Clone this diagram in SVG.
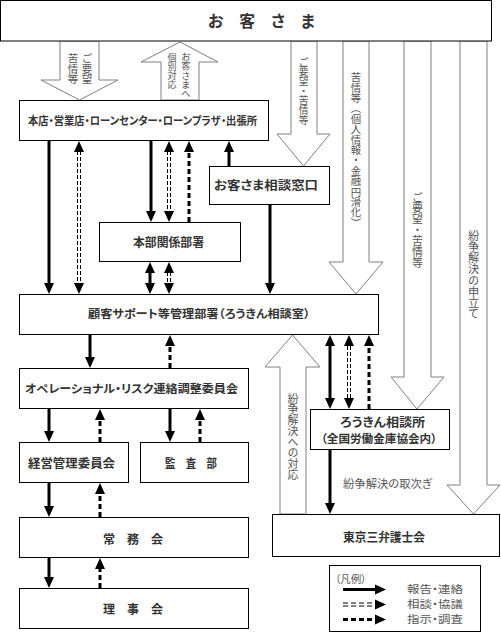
<svg xmlns="http://www.w3.org/2000/svg" xmlns:xlink="http://www.w3.org/1999/xlink" width="501" height="632" viewBox="0 0 501 632">
<style>
.box{fill:#fff;stroke:#000;stroke-width:1}
.lbl{font-family:"Noto Sans CJK JP","Noto Sans CJK SC",sans-serif;font-weight:700;fill:#333;text-anchor:middle;font-feature-settings:"palt"}
.note{font-family:"Noto Sans CJK JP","Noto Sans CJK SC",sans-serif;font-weight:400;fill:#555;font-feature-settings:"palt"}
.vt{font-family:"Noto Sans CJK JP","Noto Sans CJK SC",sans-serif;font-weight:400;fill:#555;writing-mode:vertical-rl}
.hol{fill:#fff;stroke:#808080;stroke-width:1}
.s{stroke:#000;stroke-width:3;fill:none}
.td{stroke:#000;stroke-width:3;fill:none;stroke-dasharray:5 3}
.dd{stroke:#000;stroke-width:1;fill:none;stroke-dasharray:4 2}
</style>
<defs>
<path id="hd" d="M0,0 L-5,-11 L5,-11 Z" fill="#000"/>
</defs>
<rect width="501" height="632" fill="#fff"/>

<g id="connectors">
<!-- hollow arrows -->
<polygon class="hol" points="60,41 99,41 99,80 118,80 79.5,100 41,80 60,80"/>
<text class="vt" x="87" y="53" font-size="10.5">ご要望</text>
<text class="vt" x="73" y="53" font-size="10.5">苦情等</text>
<polygon class="hol" points="161,100 161,62 141,62 180,42 218,62 199,62 199,100"/>
<text class="vt" x="186" y="52" font-size="9.3">お客さまへ</text>
<text class="vt" x="172" y="53" font-size="9">個別対応</text>
<polygon class="hol" points="291,41 317,41 317,134 330,134 303.5,166 277,134 291,134"/>
<text class="vt" x="303.5" y="57" font-size="9.7">ご要望・苦情等</text>
<polygon class="hol" points="343,41 369,41 369,262 383,262 356,294 329,262 343,262"/>
<text class="vt" x="356" y="72" font-size="10.4">苦情等（個人情報・金融円滑化）</text>
<polygon class="hol" points="404,41 431,41 431,377 444,377 417,409 391,377 404,377"/>
<text class="vt" x="417.5" y="192" font-size="10.9">ご要望・苦情等</text>
<polygon class="hol" points="460,41 487,41 487,485 500,485 473.5,514 447,485 460,485"/>
<text class="vt" x="473.5" y="230" font-size="11.2">紛争解決の申立て</text>
<polygon class="hol" points="280,514 280,367 265,367 292.5,335 320,367 306,367 306,514"/>
<text class="vt" x="293" y="393" font-size="10.9">紛争解決への対応</text>

<!-- solid -->
<line class="s" x1="49" y1="141" x2="49" y2="284"/><use xlink:href="#hd" transform="translate(49,294)"/>
<line class="s" x1="151" y1="141" x2="151" y2="212"/><use xlink:href="#hd" transform="translate(151,222)"/>
<line class="s" x1="229" y1="166" x2="229" y2="150"/><use xlink:href="#hd" transform="translate(229,141) rotate(180)"/>
<line class="s" x1="150" y1="271" x2="150" y2="284"/><use xlink:href="#hd" transform="translate(150,262) rotate(180)"/><use xlink:href="#hd" transform="translate(150,294)"/>
<line class="s" x1="270" y1="205" x2="270" y2="284"/><use xlink:href="#hd" transform="translate(270,294)"/>
<line class="s" x1="90" y1="335" x2="90" y2="358"/><use xlink:href="#hd" transform="translate(90,368)"/>
<line class="s" x1="49" y1="409" x2="49" y2="432"/><use xlink:href="#hd" transform="translate(49,442)"/>
<line class="s" x1="170" y1="409" x2="170" y2="432"/><use xlink:href="#hd" transform="translate(170,442)"/>
<line class="s" x1="49" y1="483" x2="49" y2="507"/><use xlink:href="#hd" transform="translate(49,517)"/>
<line class="s" x1="49" y1="558" x2="49" y2="578"/><use xlink:href="#hd" transform="translate(49,588)"/>
<line class="s" x1="330" y1="345" x2="330" y2="399"/><use xlink:href="#hd" transform="translate(330,335) rotate(180)"/><use xlink:href="#hd" transform="translate(330,409)"/>
<line class="s" x1="330" y1="450" x2="330" y2="504"/><use xlink:href="#hd" transform="translate(330,514)"/>

<!-- double dashed -->
<path class="dd" d="M77.5,151 V284 M80.5,151 V284"/><use xlink:href="#hd" transform="translate(79,141) rotate(180)"/><use xlink:href="#hd" transform="translate(79,294)"/>
<path class="dd" d="M167.5,151 V212 M170.5,151 V212"/><use xlink:href="#hd" transform="translate(169,141) rotate(180)"/><use xlink:href="#hd" transform="translate(169,222)"/>
<path class="dd" d="M167.5,272 V284 M170.5,272 V284"/><use xlink:href="#hd" transform="translate(169,262) rotate(180)"/><use xlink:href="#hd" transform="translate(169,294)"/>
<path class="dd" d="M347.5,346 V399 M350.5,346 V399"/><use xlink:href="#hd" transform="translate(349,335) rotate(180)"/><use xlink:href="#hd" transform="translate(349,409)"/>

<!-- thick dashed -->
<line class="td" x1="189" y1="222" x2="189" y2="151"/><use xlink:href="#hd" transform="translate(189,141) rotate(180)"/>
<line class="td" x1="170" y1="368" x2="170" y2="345"/><use xlink:href="#hd" transform="translate(170,335) rotate(180)"/>
<line class="td" x1="100" y1="442" x2="100" y2="419"/><use xlink:href="#hd" transform="translate(100,409) rotate(180)"/>
<line class="td" x1="200" y1="442" x2="200" y2="419"/><use xlink:href="#hd" transform="translate(200,409) rotate(180)"/>
<line class="td" x1="100" y1="517" x2="100" y2="494"/><use xlink:href="#hd" transform="translate(100,483) rotate(180)"/>
<line class="td" x1="100" y1="588" x2="100" y2="568"/><use xlink:href="#hd" transform="translate(100,558) rotate(180)"/>
<line class="td" x1="369" y1="409" x2="369" y2="346"/><use xlink:href="#hd" transform="translate(369,335) rotate(180)"/>

<text class="note" x="387.5" y="488" font-size="11" text-anchor="middle" textLength="89" lengthAdjust="spacingAndGlyphs">紛争解決の取次ぎ</text>
</g>

<g id="n-customer"><rect class="box" x="0.5" y="0.5" width="491" height="40.5"/><text class="lbl" x="261.5" y="27" font-size="16" textLength="107" lengthAdjust="spacingAndGlyphs">お　客　さ　ま</text></g>
<g id="n-branch"><rect class="box" x="19.5" y="100.5" width="249" height="40"/><text class="lbl" x="142.5" y="124.5" font-size="11" textLength="229" lengthAdjust="spacingAndGlyphs">本店・営業店・ローンセンター・ローンプラザ・出張所</text></g>
<g id="n-window"><rect class="box" x="209.5" y="166.5" width="120" height="38"/><text class="lbl" x="266" y="189.5" font-size="12" textLength="104" lengthAdjust="spacingAndGlyphs">お客さま相談窓口</text></g>
<g id="n-hq"><rect class="box" x="99.5" y="222.5" width="141" height="39"/><text class="lbl" x="168.5" y="246.5" font-size="12" textLength="71" lengthAdjust="spacingAndGlyphs">本部関係部署</text></g>
<g id="n-support"><rect class="box" x="19.5" y="294.5" width="359" height="40"/><text class="lbl" x="199" y="318" font-size="11.5" textLength="222" lengthAdjust="spacingAndGlyphs">顧客サポート等管理部署（ろうきん相談室）</text></g>
<g id="n-oprisk"><rect class="box" x="19.5" y="368.5" width="229" height="40"/><text class="lbl" x="131.5" y="392.5" font-size="11.5" textLength="213" lengthAdjust="spacingAndGlyphs">オペレーショナル・リスク連絡調整委員会</text></g>
<g id="n-mgmt"><rect class="box" x="19.5" y="442.5" width="109" height="40"/><text class="lbl" x="71.5" y="467.5" font-size="12" textLength="87" lengthAdjust="spacingAndGlyphs">経営管理委員会</text></g>
<g id="n-audit"><rect class="box" x="140.5" y="442.5" width="108" height="40"/><text class="lbl" x="191" y="467.5" font-size="12" textLength="52" lengthAdjust="spacingAndGlyphs">監　査　部</text></g>
<g id="n-exec"><rect class="box" x="19.5" y="517.5" width="229" height="40"/><text class="lbl" x="133" y="543.5" font-size="12" textLength="60" lengthAdjust="spacingAndGlyphs">常　務　会</text></g>
<g id="n-board"><rect class="box" x="19.5" y="588.5" width="229" height="40"/><text class="lbl" x="133" y="613.5" font-size="12" textLength="60" lengthAdjust="spacingAndGlyphs">理　事　会</text></g>
<g id="n-rokin"><rect class="box" x="310.5" y="409.5" width="139" height="40"/><text class="lbl" x="382.5" y="426.5" font-size="12" textLength="85" lengthAdjust="spacingAndGlyphs">ろうきん相談所</text><text class="lbl" x="379" y="443" font-size="11.5" textLength="116" lengthAdjust="spacingAndGlyphs">（全国労働金庫協会内）</text></g>
<g id="n-bar"><rect class="box" x="272.5" y="514.5" width="227" height="42"/><text class="lbl" x="384" y="542" font-size="12" textLength="82" lengthAdjust="spacingAndGlyphs">東京三弁護士会</text></g>

<g id="legend">
<rect class="box" x="329.5" y="565.5" width="151" height="66"/>
<text class="note" x="335" y="583" font-size="10.5">（凡例）</text>
<line class="s" x1="343" y1="589.5" x2="375" y2="589.5"/><use xlink:href="#hd" transform="translate(386,589.5) rotate(-90)"/>
<path class="dd" d="M343,603 H375 M343,606 H375" style="stroke-dasharray:5 3"/><use xlink:href="#hd" transform="translate(386,604.5) rotate(-90)"/>
<line class="td" x1="343" y1="619.5" x2="375" y2="619.5"/><use xlink:href="#hd" transform="translate(386,619.5) rotate(-90)"/>
<text class="note" x="407" y="593" font-size="10.3" textLength="56" lengthAdjust="spacingAndGlyphs">報告・連絡</text>
<text class="note" x="407" y="608" font-size="10.3" textLength="56" lengthAdjust="spacingAndGlyphs">相談・協議</text>
<text class="note" x="407" y="623" font-size="10.3" textLength="56" lengthAdjust="spacingAndGlyphs">指示・調査</text>
</g>
</svg>
